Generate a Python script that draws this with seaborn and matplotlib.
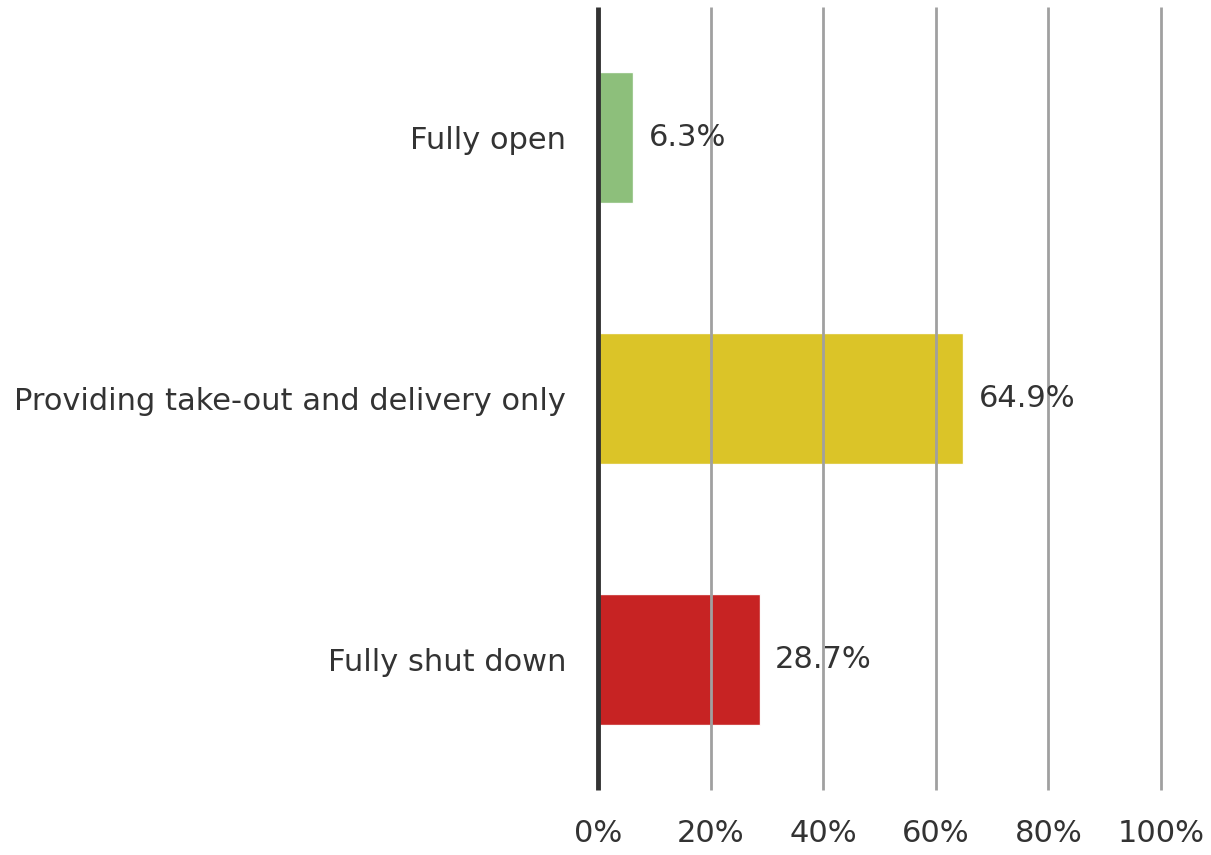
import pandas as pd
import matplotlib.pyplot as plt
import seaborn as sns

# Restaurant status shares
categories = ['Fully open', 'Providing take-out and delivery only', 'Fully shut down']
shares = [6.3, 64.9, 28.7]
colors = ['#87BC74', '#D9C11C', '#C41717']
x_ticks = [0, 20, 40, 60, 80, 100]

df = pd.DataFrame({'status': categories, 'share': shares})

sns.set_style('white')
plt.rcParams['font.family'] = ['DejaVu Sans']
text_color = '#333333'

fig = plt.figure(figsize=(12.11, 8.55), dpi=100)
ax = fig.add_axes([0.4938, 0.076, 0.4649, 0.9158])

sns.barplot(data=df, x='share', y='status', hue='status', palette=colors,
            orient='h', width=0.5, saturation=1, alpha=0.95, legend=False,
            ax=ax, zorder=1)

ax.set_xlim(0, 100)
ax.set_ylim(2.5, -0.5)
ax.set_xticks(x_ticks)
ax.set_xticklabels([f'{t}%' for t in x_ticks])
for t in x_ticks[1:]:
    ax.axvline(t, color='#A0A0A0', lw=2, zorder=2, clip_on=False,
               solid_capstyle='butt')
ax.axvline(0, color='#333333', lw=3.5, zorder=3, clip_on=False,
           solid_capstyle='butt')

for i, v in enumerate(shares):
    ax.annotate(f'{v}%', (v, i), xytext=(11, 0), textcoords='offset points',
                va='center', ha='left', fontsize=22, color=text_color)

for s in ax.spines.values():
    s.set_visible(False)
ax.tick_params(axis='x', length=0, pad=21, labelsize=22, labelcolor=text_color)
ax.tick_params(axis='y', length=0, pad=23, labelsize=22, labelcolor=text_color)
ax.set_xlabel('')
ax.set_ylabel('')

fig.savefig('out.png', dpi=100)
